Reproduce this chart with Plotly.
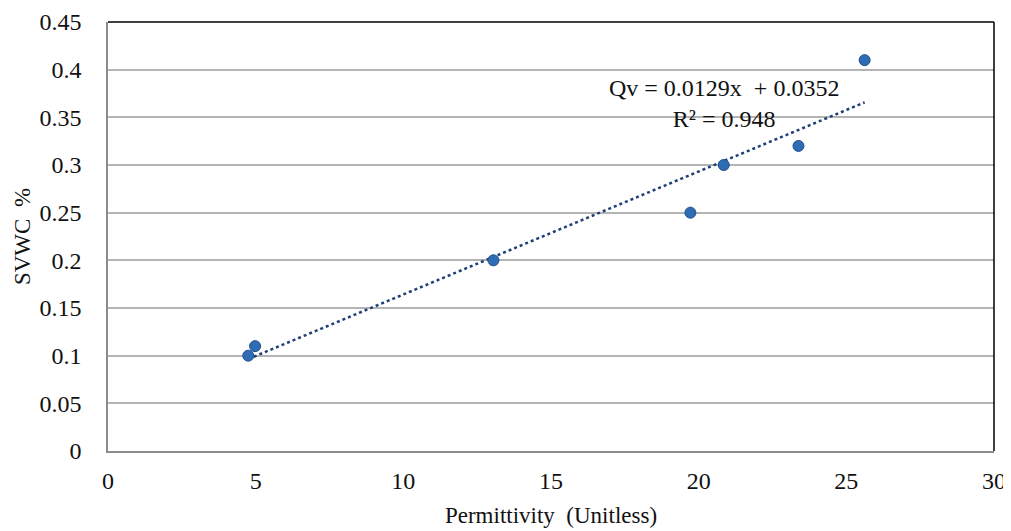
import plotly.graph_objects as go

permittivity = [4.75, 4.98, 13.05, 19.72, 20.85, 23.38, 25.62]
svwc = [0.10, 0.11, 0.20, 0.25, 0.30, 0.32, 0.41]
slope = 0.0129
intercept = 0.0352
x_ticks = [0, 5, 10, 15, 20, 25, 30]
y_ticks = [0, 0.05, 0.1, 0.15, 0.2, 0.25, 0.3, 0.35, 0.4, 0.45]
y_tick_text = ["0", "0.05", "0.1", "0.15", "0.2", "0.25", "0.3", "0.35", "0.4", "0.45"]

x0, x1 = min(permittivity), max(permittivity)
trend_x = [x0, x1]
trend_y = [slope * v + intercept for v in trend_x]

font = "Liberation Serif, Times New Roman, serif"

fig = go.Figure()
fig.add_trace(go.Scatter(
    x=trend_x, y=trend_y, mode="lines",
    line=dict(color="#1F3F77", width=2.5, dash="dot"),
    showlegend=False, hoverinfo="skip"))
fig.add_trace(go.Scatter(
    x=permittivity, y=svwc, mode="markers",
    marker=dict(size=11, color="#2E6DB4", line=dict(color="#1E4E8C", width=1)),
    showlegend=False))

fig.add_annotation(
    x=20.85, y=0.365, xref="x", yref="y",
    text="Qv = 0.0129x  + 0.0352<br>R² = 0.948",
    showarrow=False, align="center",
    font=dict(family=font, size=24, color="#111"))

# top and right border (black)
fig.add_shape(type="line", xref="paper", yref="paper", x0=0, x1=1, y0=1, y1=1,
              line=dict(color="black", width=1.5))
fig.add_shape(type="line", xref="paper", yref="paper", x0=1, x1=1, y0=0, y1=1,
              line=dict(color="black", width=1.5))

fig.update_layout(
    width=1003, height=523,
    margin=dict(l=100, r=17, t=14, b=80),
    paper_bgcolor="white", plot_bgcolor="white",
    font=dict(family=font, size=24, color="#111"),
    xaxis=dict(range=[0, 30], tickvals=x_ticks, showgrid=False, zeroline=False,
               showline=True, linecolor="#8C8C8C", linewidth=1.5, ticks="",
               ticklabelstandoff=7, automargin=False,
               title=dict(text="Permittivity  (Unitless)", font=dict(size=23), standoff=14)),
    yaxis=dict(range=[0, 0.45], tickvals=y_ticks, ticktext=y_tick_text,
               showgrid=True, gridcolor="#B4B4B4", gridwidth=1.5, zeroline=False,
               showline=True, linecolor="#8C8C8C", linewidth=1.5, ticks="",
               ticklabelstandoff=20, automargin=False,
               title=dict(text="SVWC  %", font=dict(size=23), standoff=2)),
)

fig.write_html("out.html")
